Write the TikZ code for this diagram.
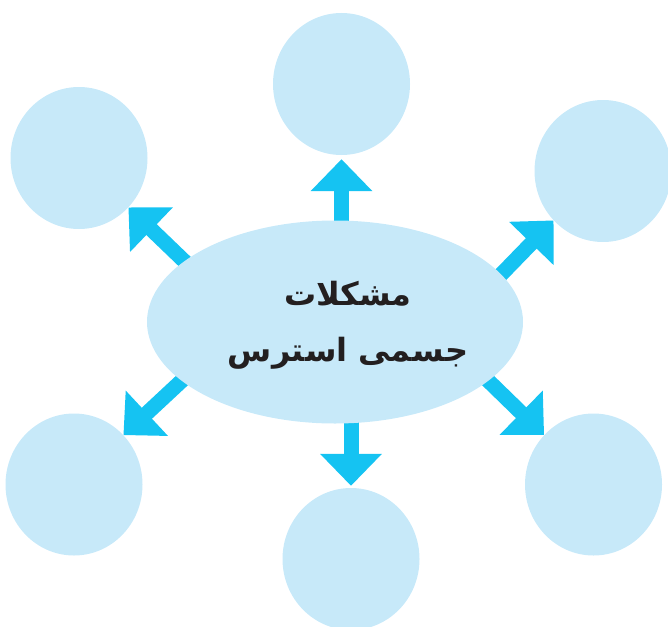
\documentclass[tikz,border=0pt]{standalone}
\usepackage{fontspec}
\usepackage{xcolor}
\usetikzlibrary{shapes.geometric,arrows.meta,backgrounds}
\TeXXeTstate=1
\newfontfamily\arabicfont[Script=Arabic]{DejaVu Sans}
\definecolor{bubble}{RGB}{199,233,249}
\definecolor{arrowblue}{RGB}{21,195,242}
\definecolor{ink}{RGB}{35,31,32}

\begin{document}
\begin{tikzpicture}[x=1pt,y=-1pt,
	bubble/.style={ellipse,fill=bubble,minimum width=137pt,minimum height=142pt,inner sep=0pt},
	arr/.style={arrowblue,line width=15pt,-{Triangle[length=32pt,width=60pt]},shorten <=-8pt}]
	\useasboundingbox (0,0) rectangle (668,626);

	\node[ellipse,fill=bubble,minimum width=376pt,minimum height=203pt,inner sep=0pt] (ctr) at (335,322) {};
	\node[font=\arabicfont\bfseries\fontsize{32}{56}\selectfont,text=ink,align=center] (title) at (348,325) {\beginR مشکلات\endR\\\beginR جسمی استرس\endR};

	\node[bubble] (top) at (341.5,84) {};
	\node[bubble] (tl) at (79,158) {};
	\node[bubble] (tr) at (603,171) {};
	\node[bubble] (bl) at (74,484.5) {};
	\node[bubble] (bot) at (351,559) {};
	\node[bubble] (br) at (593.5,484.5) {};

	\begin{scope}[on background layer]
	\draw[arr,shorten >=4pt] (top.south |- ctr.north) -- (top.south);
	\draw[arr,shorten >=2pt] (bot.north |- ctr.south) -- (bot.north);
	\draw[arr] (ctr.158) -- (tl.-45);
	\draw[arr] (ctr.16) -- (tr.-135);
	\draw[arr] (ctr.-159) -- (bl.45);
	\draw[arr] (ctr.-21) -- (br.135);
	\end{scope}
\end{tikzpicture}
\end{document}
